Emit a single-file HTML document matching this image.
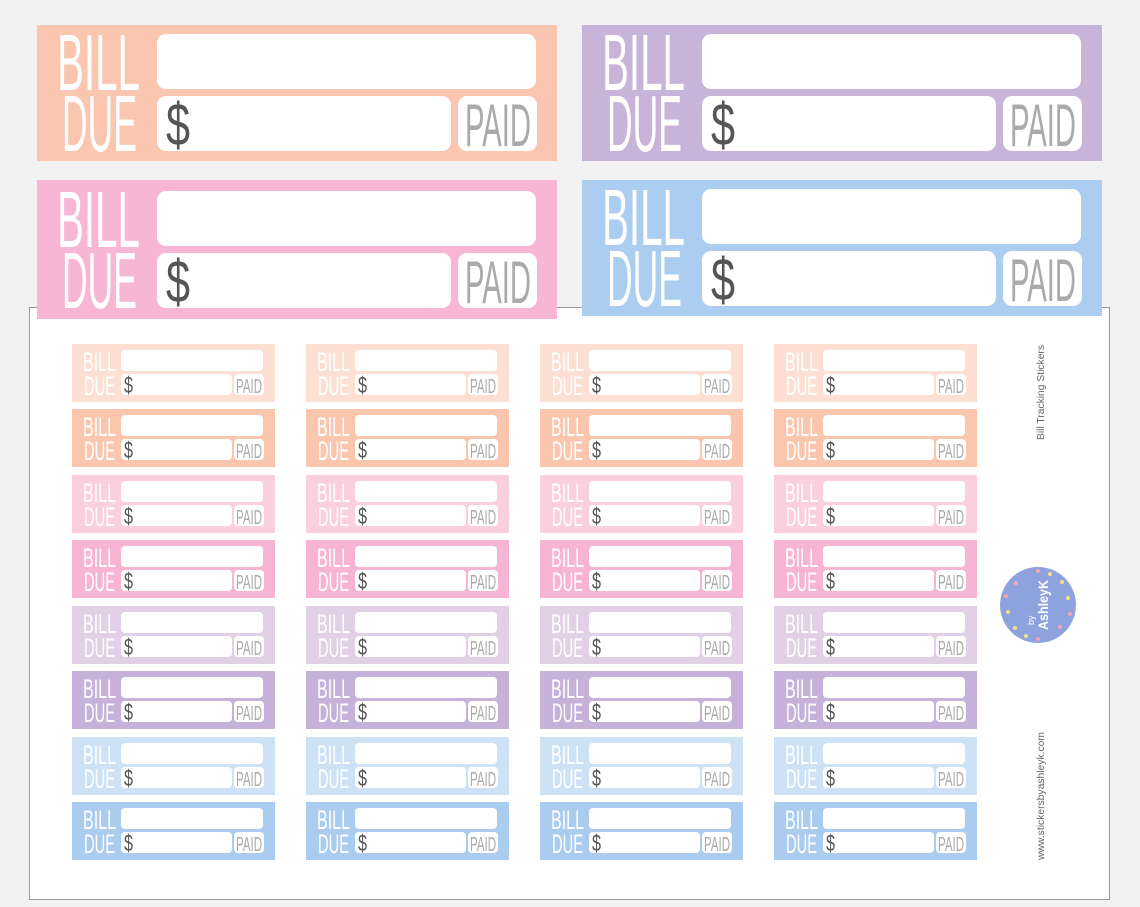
<!DOCTYPE html>
<html><head><meta charset="utf-8"><style>
html,body{margin:0;padding:0;background:#f3f3f4;}
svg{display:block}
.w{fill:#fff;font-family:"Liberation Sans",sans-serif;}
.s{font-size:27px}
.d{fill:#555;font-family:"Liberation Sans",sans-serif;font-size:23px}
.p{fill:#aaa;font-family:"Liberation Sans",sans-serif;font-size:20px}
</style></head><body>
<svg width="1140" height="907" viewBox="0 0 1140 907" xmlns="http://www.w3.org/2000/svg">
<rect width="1140" height="907" fill="#f2f2f3"/>
<rect x="29.5" y="307.5" width="1080" height="592" fill="#fff" stroke="#9a9a9a"/>
<g>
<rect x="37" y="25" width="520" height="136" fill="#fbc6b0"/>
<rect x="157" y="34" width="379" height="55" rx="9" fill="#fff"/>
<rect x="157" y="96" width="294" height="55" rx="9" fill="#fff"/>
<rect x="458" y="96" width="79" height="55" rx="9" fill="#fff"/>
<text class="w" x="57" y="90" font-size="80" textLength="83" lengthAdjust="spacingAndGlyphs">BILL</text>
<text class="w" x="62" y="151" font-size="80" textLength="75" lengthAdjust="spacingAndGlyphs">DUE</text>
<text class="d" style="font-size:60px" x="166" y="145" textLength="24" lengthAdjust="spacingAndGlyphs">$</text>
<text class="p" style="font-size:60px" x="465" y="146" textLength="66" lengthAdjust="spacingAndGlyphs">PAID</text>
</g>
<g>
<rect x="582" y="25" width="520" height="136" fill="#c8b4d8"/>
<rect x="702" y="34" width="379" height="55" rx="9" fill="#fff"/>
<rect x="702" y="96" width="294" height="55" rx="9" fill="#fff"/>
<rect x="1003" y="96" width="79" height="55" rx="9" fill="#fff"/>
<text class="w" x="602" y="90" font-size="80" textLength="83" lengthAdjust="spacingAndGlyphs">BILL</text>
<text class="w" x="607" y="151" font-size="80" textLength="75" lengthAdjust="spacingAndGlyphs">DUE</text>
<text class="d" style="font-size:60px" x="711" y="145" textLength="24" lengthAdjust="spacingAndGlyphs">$</text>
<text class="p" style="font-size:60px" x="1010" y="146" textLength="66" lengthAdjust="spacingAndGlyphs">PAID</text>
</g>
<g>
<rect x="37" y="180" width="520" height="139" fill="#f7b6d4"/>
<rect x="157" y="191" width="379" height="55" rx="9" fill="#fff"/>
<rect x="157" y="253" width="294" height="55" rx="9" fill="#fff"/>
<rect x="458" y="253" width="79" height="55" rx="9" fill="#fff"/>
<text class="w" x="57" y="247" font-size="80" textLength="83" lengthAdjust="spacingAndGlyphs">BILL</text>
<text class="w" x="62" y="308" font-size="80" textLength="75" lengthAdjust="spacingAndGlyphs">DUE</text>
<text class="d" style="font-size:60px" x="166" y="302" textLength="24" lengthAdjust="spacingAndGlyphs">$</text>
<text class="p" style="font-size:60px" x="465" y="303" textLength="66" lengthAdjust="spacingAndGlyphs">PAID</text>
</g>
<g>
<rect x="582" y="180" width="520" height="136" fill="#abcdef"/>
<rect x="702" y="189" width="379" height="55" rx="9" fill="#fff"/>
<rect x="702" y="251" width="294" height="55" rx="9" fill="#fff"/>
<rect x="1003" y="251" width="79" height="55" rx="9" fill="#fff"/>
<text class="w" x="602" y="245" font-size="80" textLength="83" lengthAdjust="spacingAndGlyphs">BILL</text>
<text class="w" x="607" y="306" font-size="80" textLength="75" lengthAdjust="spacingAndGlyphs">DUE</text>
<text class="d" style="font-size:60px" x="711" y="300" textLength="24" lengthAdjust="spacingAndGlyphs">$</text>
<text class="p" style="font-size:60px" x="1010" y="301" textLength="66" lengthAdjust="spacingAndGlyphs">PAID</text>
</g>

<g>
<g transform="translate(72,344)"><rect width="203" height="58" fill="#fde0d3"/><rect x="49" y="6" width="142" height="21" rx="4" fill="#fff"/><rect x="49" y="30" width="111" height="21" rx="4" fill="#fff"/><rect x="162" y="30" width="30" height="21" rx="4" fill="#fff"/><text class="w s" x="11" y="27" textLength="33" lengthAdjust="spacingAndGlyphs">BILL</text><text class="w s" x="12" y="51" textLength="31" lengthAdjust="spacingAndGlyphs">DUE</text><text class="d" x="52" y="49" textLength="9" lengthAdjust="spacingAndGlyphs">$</text><text class="p" x="164" y="49" textLength="26" lengthAdjust="spacingAndGlyphs">PAID</text></g>
<g transform="translate(306,344)"><rect width="203" height="58" fill="#fde0d3"/><rect x="49" y="6" width="142" height="21" rx="4" fill="#fff"/><rect x="49" y="30" width="111" height="21" rx="4" fill="#fff"/><rect x="162" y="30" width="30" height="21" rx="4" fill="#fff"/><text class="w s" x="11" y="27" textLength="33" lengthAdjust="spacingAndGlyphs">BILL</text><text class="w s" x="12" y="51" textLength="31" lengthAdjust="spacingAndGlyphs">DUE</text><text class="d" x="52" y="49" textLength="9" lengthAdjust="spacingAndGlyphs">$</text><text class="p" x="164" y="49" textLength="26" lengthAdjust="spacingAndGlyphs">PAID</text></g>
<g transform="translate(540,344)"><rect width="203" height="58" fill="#fde0d3"/><rect x="49" y="6" width="142" height="21" rx="4" fill="#fff"/><rect x="49" y="30" width="111" height="21" rx="4" fill="#fff"/><rect x="162" y="30" width="30" height="21" rx="4" fill="#fff"/><text class="w s" x="11" y="27" textLength="33" lengthAdjust="spacingAndGlyphs">BILL</text><text class="w s" x="12" y="51" textLength="31" lengthAdjust="spacingAndGlyphs">DUE</text><text class="d" x="52" y="49" textLength="9" lengthAdjust="spacingAndGlyphs">$</text><text class="p" x="164" y="49" textLength="26" lengthAdjust="spacingAndGlyphs">PAID</text></g>
<g transform="translate(774,344)"><rect width="203" height="58" fill="#fde0d3"/><rect x="49" y="6" width="142" height="21" rx="4" fill="#fff"/><rect x="49" y="30" width="111" height="21" rx="4" fill="#fff"/><rect x="162" y="30" width="30" height="21" rx="4" fill="#fff"/><text class="w s" x="11" y="27" textLength="33" lengthAdjust="spacingAndGlyphs">BILL</text><text class="w s" x="12" y="51" textLength="31" lengthAdjust="spacingAndGlyphs">DUE</text><text class="d" x="52" y="49" textLength="9" lengthAdjust="spacingAndGlyphs">$</text><text class="p" x="164" y="49" textLength="26" lengthAdjust="spacingAndGlyphs">PAID</text></g>

<g transform="translate(72,409)"><rect width="203" height="58" fill="#fbc6ae"/><rect x="49" y="6" width="142" height="21" rx="4" fill="#fff"/><rect x="49" y="30" width="111" height="21" rx="4" fill="#fff"/><rect x="162" y="30" width="30" height="21" rx="4" fill="#fff"/><text class="w s" x="11" y="27" textLength="33" lengthAdjust="spacingAndGlyphs">BILL</text><text class="w s" x="12" y="51" textLength="31" lengthAdjust="spacingAndGlyphs">DUE</text><text class="d" x="52" y="49" textLength="9" lengthAdjust="spacingAndGlyphs">$</text><text class="p" x="164" y="49" textLength="26" lengthAdjust="spacingAndGlyphs">PAID</text></g>
<g transform="translate(306,409)"><rect width="203" height="58" fill="#fbc6ae"/><rect x="49" y="6" width="142" height="21" rx="4" fill="#fff"/><rect x="49" y="30" width="111" height="21" rx="4" fill="#fff"/><rect x="162" y="30" width="30" height="21" rx="4" fill="#fff"/><text class="w s" x="11" y="27" textLength="33" lengthAdjust="spacingAndGlyphs">BILL</text><text class="w s" x="12" y="51" textLength="31" lengthAdjust="spacingAndGlyphs">DUE</text><text class="d" x="52" y="49" textLength="9" lengthAdjust="spacingAndGlyphs">$</text><text class="p" x="164" y="49" textLength="26" lengthAdjust="spacingAndGlyphs">PAID</text></g>
<g transform="translate(540,409)"><rect width="203" height="58" fill="#fbc6ae"/><rect x="49" y="6" width="142" height="21" rx="4" fill="#fff"/><rect x="49" y="30" width="111" height="21" rx="4" fill="#fff"/><rect x="162" y="30" width="30" height="21" rx="4" fill="#fff"/><text class="w s" x="11" y="27" textLength="33" lengthAdjust="spacingAndGlyphs">BILL</text><text class="w s" x="12" y="51" textLength="31" lengthAdjust="spacingAndGlyphs">DUE</text><text class="d" x="52" y="49" textLength="9" lengthAdjust="spacingAndGlyphs">$</text><text class="p" x="164" y="49" textLength="26" lengthAdjust="spacingAndGlyphs">PAID</text></g>
<g transform="translate(774,409)"><rect width="203" height="58" fill="#fbc6ae"/><rect x="49" y="6" width="142" height="21" rx="4" fill="#fff"/><rect x="49" y="30" width="111" height="21" rx="4" fill="#fff"/><rect x="162" y="30" width="30" height="21" rx="4" fill="#fff"/><text class="w s" x="11" y="27" textLength="33" lengthAdjust="spacingAndGlyphs">BILL</text><text class="w s" x="12" y="51" textLength="31" lengthAdjust="spacingAndGlyphs">DUE</text><text class="d" x="52" y="49" textLength="9" lengthAdjust="spacingAndGlyphs">$</text><text class="p" x="164" y="49" textLength="26" lengthAdjust="spacingAndGlyphs">PAID</text></g>

<g transform="translate(72,475)"><rect width="203" height="58" fill="#fad0de"/><rect x="49" y="6" width="142" height="21" rx="4" fill="#fff"/><rect x="49" y="30" width="111" height="21" rx="4" fill="#fff"/><rect x="162" y="30" width="30" height="21" rx="4" fill="#fff"/><text class="w s" x="11" y="27" textLength="33" lengthAdjust="spacingAndGlyphs">BILL</text><text class="w s" x="12" y="51" textLength="31" lengthAdjust="spacingAndGlyphs">DUE</text><text class="d" x="52" y="49" textLength="9" lengthAdjust="spacingAndGlyphs">$</text><text class="p" x="164" y="49" textLength="26" lengthAdjust="spacingAndGlyphs">PAID</text></g>
<g transform="translate(306,475)"><rect width="203" height="58" fill="#fad0de"/><rect x="49" y="6" width="142" height="21" rx="4" fill="#fff"/><rect x="49" y="30" width="111" height="21" rx="4" fill="#fff"/><rect x="162" y="30" width="30" height="21" rx="4" fill="#fff"/><text class="w s" x="11" y="27" textLength="33" lengthAdjust="spacingAndGlyphs">BILL</text><text class="w s" x="12" y="51" textLength="31" lengthAdjust="spacingAndGlyphs">DUE</text><text class="d" x="52" y="49" textLength="9" lengthAdjust="spacingAndGlyphs">$</text><text class="p" x="164" y="49" textLength="26" lengthAdjust="spacingAndGlyphs">PAID</text></g>
<g transform="translate(540,475)"><rect width="203" height="58" fill="#fad0de"/><rect x="49" y="6" width="142" height="21" rx="4" fill="#fff"/><rect x="49" y="30" width="111" height="21" rx="4" fill="#fff"/><rect x="162" y="30" width="30" height="21" rx="4" fill="#fff"/><text class="w s" x="11" y="27" textLength="33" lengthAdjust="spacingAndGlyphs">BILL</text><text class="w s" x="12" y="51" textLength="31" lengthAdjust="spacingAndGlyphs">DUE</text><text class="d" x="52" y="49" textLength="9" lengthAdjust="spacingAndGlyphs">$</text><text class="p" x="164" y="49" textLength="26" lengthAdjust="spacingAndGlyphs">PAID</text></g>
<g transform="translate(774,475)"><rect width="203" height="58" fill="#fad0de"/><rect x="49" y="6" width="142" height="21" rx="4" fill="#fff"/><rect x="49" y="30" width="111" height="21" rx="4" fill="#fff"/><rect x="162" y="30" width="30" height="21" rx="4" fill="#fff"/><text class="w s" x="11" y="27" textLength="33" lengthAdjust="spacingAndGlyphs">BILL</text><text class="w s" x="12" y="51" textLength="31" lengthAdjust="spacingAndGlyphs">DUE</text><text class="d" x="52" y="49" textLength="9" lengthAdjust="spacingAndGlyphs">$</text><text class="p" x="164" y="49" textLength="26" lengthAdjust="spacingAndGlyphs">PAID</text></g>

<g transform="translate(72,540)"><rect width="203" height="58" fill="#f7b5d3"/><rect x="49" y="6" width="142" height="21" rx="4" fill="#fff"/><rect x="49" y="30" width="111" height="21" rx="4" fill="#fff"/><rect x="162" y="30" width="30" height="21" rx="4" fill="#fff"/><text class="w s" x="11" y="27" textLength="33" lengthAdjust="spacingAndGlyphs">BILL</text><text class="w s" x="12" y="51" textLength="31" lengthAdjust="spacingAndGlyphs">DUE</text><text class="d" x="52" y="49" textLength="9" lengthAdjust="spacingAndGlyphs">$</text><text class="p" x="164" y="49" textLength="26" lengthAdjust="spacingAndGlyphs">PAID</text></g>
<g transform="translate(306,540)"><rect width="203" height="58" fill="#f7b5d3"/><rect x="49" y="6" width="142" height="21" rx="4" fill="#fff"/><rect x="49" y="30" width="111" height="21" rx="4" fill="#fff"/><rect x="162" y="30" width="30" height="21" rx="4" fill="#fff"/><text class="w s" x="11" y="27" textLength="33" lengthAdjust="spacingAndGlyphs">BILL</text><text class="w s" x="12" y="51" textLength="31" lengthAdjust="spacingAndGlyphs">DUE</text><text class="d" x="52" y="49" textLength="9" lengthAdjust="spacingAndGlyphs">$</text><text class="p" x="164" y="49" textLength="26" lengthAdjust="spacingAndGlyphs">PAID</text></g>
<g transform="translate(540,540)"><rect width="203" height="58" fill="#f7b5d3"/><rect x="49" y="6" width="142" height="21" rx="4" fill="#fff"/><rect x="49" y="30" width="111" height="21" rx="4" fill="#fff"/><rect x="162" y="30" width="30" height="21" rx="4" fill="#fff"/><text class="w s" x="11" y="27" textLength="33" lengthAdjust="spacingAndGlyphs">BILL</text><text class="w s" x="12" y="51" textLength="31" lengthAdjust="spacingAndGlyphs">DUE</text><text class="d" x="52" y="49" textLength="9" lengthAdjust="spacingAndGlyphs">$</text><text class="p" x="164" y="49" textLength="26" lengthAdjust="spacingAndGlyphs">PAID</text></g>
<g transform="translate(774,540)"><rect width="203" height="58" fill="#f7b5d3"/><rect x="49" y="6" width="142" height="21" rx="4" fill="#fff"/><rect x="49" y="30" width="111" height="21" rx="4" fill="#fff"/><rect x="162" y="30" width="30" height="21" rx="4" fill="#fff"/><text class="w s" x="11" y="27" textLength="33" lengthAdjust="spacingAndGlyphs">BILL</text><text class="w s" x="12" y="51" textLength="31" lengthAdjust="spacingAndGlyphs">DUE</text><text class="d" x="52" y="49" textLength="9" lengthAdjust="spacingAndGlyphs">$</text><text class="p" x="164" y="49" textLength="26" lengthAdjust="spacingAndGlyphs">PAID</text></g>

<g transform="translate(72,606)"><rect width="203" height="58" fill="#e2d0e6"/><rect x="49" y="6" width="142" height="21" rx="4" fill="#fff"/><rect x="49" y="30" width="111" height="21" rx="4" fill="#fff"/><rect x="162" y="30" width="30" height="21" rx="4" fill="#fff"/><text class="w s" x="11" y="27" textLength="33" lengthAdjust="spacingAndGlyphs">BILL</text><text class="w s" x="12" y="51" textLength="31" lengthAdjust="spacingAndGlyphs">DUE</text><text class="d" x="52" y="49" textLength="9" lengthAdjust="spacingAndGlyphs">$</text><text class="p" x="164" y="49" textLength="26" lengthAdjust="spacingAndGlyphs">PAID</text></g>
<g transform="translate(306,606)"><rect width="203" height="58" fill="#e2d0e6"/><rect x="49" y="6" width="142" height="21" rx="4" fill="#fff"/><rect x="49" y="30" width="111" height="21" rx="4" fill="#fff"/><rect x="162" y="30" width="30" height="21" rx="4" fill="#fff"/><text class="w s" x="11" y="27" textLength="33" lengthAdjust="spacingAndGlyphs">BILL</text><text class="w s" x="12" y="51" textLength="31" lengthAdjust="spacingAndGlyphs">DUE</text><text class="d" x="52" y="49" textLength="9" lengthAdjust="spacingAndGlyphs">$</text><text class="p" x="164" y="49" textLength="26" lengthAdjust="spacingAndGlyphs">PAID</text></g>
<g transform="translate(540,606)"><rect width="203" height="58" fill="#e2d0e6"/><rect x="49" y="6" width="142" height="21" rx="4" fill="#fff"/><rect x="49" y="30" width="111" height="21" rx="4" fill="#fff"/><rect x="162" y="30" width="30" height="21" rx="4" fill="#fff"/><text class="w s" x="11" y="27" textLength="33" lengthAdjust="spacingAndGlyphs">BILL</text><text class="w s" x="12" y="51" textLength="31" lengthAdjust="spacingAndGlyphs">DUE</text><text class="d" x="52" y="49" textLength="9" lengthAdjust="spacingAndGlyphs">$</text><text class="p" x="164" y="49" textLength="26" lengthAdjust="spacingAndGlyphs">PAID</text></g>
<g transform="translate(774,606)"><rect width="203" height="58" fill="#e2d0e6"/><rect x="49" y="6" width="142" height="21" rx="4" fill="#fff"/><rect x="49" y="30" width="111" height="21" rx="4" fill="#fff"/><rect x="162" y="30" width="30" height="21" rx="4" fill="#fff"/><text class="w s" x="11" y="27" textLength="33" lengthAdjust="spacingAndGlyphs">BILL</text><text class="w s" x="12" y="51" textLength="31" lengthAdjust="spacingAndGlyphs">DUE</text><text class="d" x="52" y="49" textLength="9" lengthAdjust="spacingAndGlyphs">$</text><text class="p" x="164" y="49" textLength="26" lengthAdjust="spacingAndGlyphs">PAID</text></g>

<g transform="translate(72,671)"><rect width="203" height="58" fill="#c6b2d8"/><rect x="49" y="6" width="142" height="21" rx="4" fill="#fff"/><rect x="49" y="30" width="111" height="21" rx="4" fill="#fff"/><rect x="162" y="30" width="30" height="21" rx="4" fill="#fff"/><text class="w s" x="11" y="27" textLength="33" lengthAdjust="spacingAndGlyphs">BILL</text><text class="w s" x="12" y="51" textLength="31" lengthAdjust="spacingAndGlyphs">DUE</text><text class="d" x="52" y="49" textLength="9" lengthAdjust="spacingAndGlyphs">$</text><text class="p" x="164" y="49" textLength="26" lengthAdjust="spacingAndGlyphs">PAID</text></g>
<g transform="translate(306,671)"><rect width="203" height="58" fill="#c6b2d8"/><rect x="49" y="6" width="142" height="21" rx="4" fill="#fff"/><rect x="49" y="30" width="111" height="21" rx="4" fill="#fff"/><rect x="162" y="30" width="30" height="21" rx="4" fill="#fff"/><text class="w s" x="11" y="27" textLength="33" lengthAdjust="spacingAndGlyphs">BILL</text><text class="w s" x="12" y="51" textLength="31" lengthAdjust="spacingAndGlyphs">DUE</text><text class="d" x="52" y="49" textLength="9" lengthAdjust="spacingAndGlyphs">$</text><text class="p" x="164" y="49" textLength="26" lengthAdjust="spacingAndGlyphs">PAID</text></g>
<g transform="translate(540,671)"><rect width="203" height="58" fill="#c6b2d8"/><rect x="49" y="6" width="142" height="21" rx="4" fill="#fff"/><rect x="49" y="30" width="111" height="21" rx="4" fill="#fff"/><rect x="162" y="30" width="30" height="21" rx="4" fill="#fff"/><text class="w s" x="11" y="27" textLength="33" lengthAdjust="spacingAndGlyphs">BILL</text><text class="w s" x="12" y="51" textLength="31" lengthAdjust="spacingAndGlyphs">DUE</text><text class="d" x="52" y="49" textLength="9" lengthAdjust="spacingAndGlyphs">$</text><text class="p" x="164" y="49" textLength="26" lengthAdjust="spacingAndGlyphs">PAID</text></g>
<g transform="translate(774,671)"><rect width="203" height="58" fill="#c6b2d8"/><rect x="49" y="6" width="142" height="21" rx="4" fill="#fff"/><rect x="49" y="30" width="111" height="21" rx="4" fill="#fff"/><rect x="162" y="30" width="30" height="21" rx="4" fill="#fff"/><text class="w s" x="11" y="27" textLength="33" lengthAdjust="spacingAndGlyphs">BILL</text><text class="w s" x="12" y="51" textLength="31" lengthAdjust="spacingAndGlyphs">DUE</text><text class="d" x="52" y="49" textLength="9" lengthAdjust="spacingAndGlyphs">$</text><text class="p" x="164" y="49" textLength="26" lengthAdjust="spacingAndGlyphs">PAID</text></g>

<g transform="translate(72,737)"><rect width="203" height="58" fill="#cde3f5"/><rect x="49" y="6" width="142" height="21" rx="4" fill="#fff"/><rect x="49" y="30" width="111" height="21" rx="4" fill="#fff"/><rect x="162" y="30" width="30" height="21" rx="4" fill="#fff"/><text class="w s" x="11" y="27" textLength="33" lengthAdjust="spacingAndGlyphs">BILL</text><text class="w s" x="12" y="51" textLength="31" lengthAdjust="spacingAndGlyphs">DUE</text><text class="d" x="52" y="49" textLength="9" lengthAdjust="spacingAndGlyphs">$</text><text class="p" x="164" y="49" textLength="26" lengthAdjust="spacingAndGlyphs">PAID</text></g>
<g transform="translate(306,737)"><rect width="203" height="58" fill="#cde3f5"/><rect x="49" y="6" width="142" height="21" rx="4" fill="#fff"/><rect x="49" y="30" width="111" height="21" rx="4" fill="#fff"/><rect x="162" y="30" width="30" height="21" rx="4" fill="#fff"/><text class="w s" x="11" y="27" textLength="33" lengthAdjust="spacingAndGlyphs">BILL</text><text class="w s" x="12" y="51" textLength="31" lengthAdjust="spacingAndGlyphs">DUE</text><text class="d" x="52" y="49" textLength="9" lengthAdjust="spacingAndGlyphs">$</text><text class="p" x="164" y="49" textLength="26" lengthAdjust="spacingAndGlyphs">PAID</text></g>
<g transform="translate(540,737)"><rect width="203" height="58" fill="#cde3f5"/><rect x="49" y="6" width="142" height="21" rx="4" fill="#fff"/><rect x="49" y="30" width="111" height="21" rx="4" fill="#fff"/><rect x="162" y="30" width="30" height="21" rx="4" fill="#fff"/><text class="w s" x="11" y="27" textLength="33" lengthAdjust="spacingAndGlyphs">BILL</text><text class="w s" x="12" y="51" textLength="31" lengthAdjust="spacingAndGlyphs">DUE</text><text class="d" x="52" y="49" textLength="9" lengthAdjust="spacingAndGlyphs">$</text><text class="p" x="164" y="49" textLength="26" lengthAdjust="spacingAndGlyphs">PAID</text></g>
<g transform="translate(774,737)"><rect width="203" height="58" fill="#cde3f5"/><rect x="49" y="6" width="142" height="21" rx="4" fill="#fff"/><rect x="49" y="30" width="111" height="21" rx="4" fill="#fff"/><rect x="162" y="30" width="30" height="21" rx="4" fill="#fff"/><text class="w s" x="11" y="27" textLength="33" lengthAdjust="spacingAndGlyphs">BILL</text><text class="w s" x="12" y="51" textLength="31" lengthAdjust="spacingAndGlyphs">DUE</text><text class="d" x="52" y="49" textLength="9" lengthAdjust="spacingAndGlyphs">$</text><text class="p" x="164" y="49" textLength="26" lengthAdjust="spacingAndGlyphs">PAID</text></g>

<g transform="translate(72,802)"><rect width="203" height="58" fill="#aaccee"/><rect x="49" y="6" width="142" height="21" rx="4" fill="#fff"/><rect x="49" y="30" width="111" height="21" rx="4" fill="#fff"/><rect x="162" y="30" width="30" height="21" rx="4" fill="#fff"/><text class="w s" x="11" y="27" textLength="33" lengthAdjust="spacingAndGlyphs">BILL</text><text class="w s" x="12" y="51" textLength="31" lengthAdjust="spacingAndGlyphs">DUE</text><text class="d" x="52" y="49" textLength="9" lengthAdjust="spacingAndGlyphs">$</text><text class="p" x="164" y="49" textLength="26" lengthAdjust="spacingAndGlyphs">PAID</text></g>
<g transform="translate(306,802)"><rect width="203" height="58" fill="#aaccee"/><rect x="49" y="6" width="142" height="21" rx="4" fill="#fff"/><rect x="49" y="30" width="111" height="21" rx="4" fill="#fff"/><rect x="162" y="30" width="30" height="21" rx="4" fill="#fff"/><text class="w s" x="11" y="27" textLength="33" lengthAdjust="spacingAndGlyphs">BILL</text><text class="w s" x="12" y="51" textLength="31" lengthAdjust="spacingAndGlyphs">DUE</text><text class="d" x="52" y="49" textLength="9" lengthAdjust="spacingAndGlyphs">$</text><text class="p" x="164" y="49" textLength="26" lengthAdjust="spacingAndGlyphs">PAID</text></g>
<g transform="translate(540,802)"><rect width="203" height="58" fill="#aaccee"/><rect x="49" y="6" width="142" height="21" rx="4" fill="#fff"/><rect x="49" y="30" width="111" height="21" rx="4" fill="#fff"/><rect x="162" y="30" width="30" height="21" rx="4" fill="#fff"/><text class="w s" x="11" y="27" textLength="33" lengthAdjust="spacingAndGlyphs">BILL</text><text class="w s" x="12" y="51" textLength="31" lengthAdjust="spacingAndGlyphs">DUE</text><text class="d" x="52" y="49" textLength="9" lengthAdjust="spacingAndGlyphs">$</text><text class="p" x="164" y="49" textLength="26" lengthAdjust="spacingAndGlyphs">PAID</text></g>
<g transform="translate(774,802)"><rect width="203" height="58" fill="#aaccee"/><rect x="49" y="6" width="142" height="21" rx="4" fill="#fff"/><rect x="49" y="30" width="111" height="21" rx="4" fill="#fff"/><rect x="162" y="30" width="30" height="21" rx="4" fill="#fff"/><text class="w s" x="11" y="27" textLength="33" lengthAdjust="spacingAndGlyphs">BILL</text><text class="w s" x="12" y="51" textLength="31" lengthAdjust="spacingAndGlyphs">DUE</text><text class="d" x="52" y="49" textLength="9" lengthAdjust="spacingAndGlyphs">$</text><text class="p" x="164" y="49" textLength="26" lengthAdjust="spacingAndGlyphs">PAID</text></g>
</g>

<text transform="translate(1044,440) rotate(-90)" font-family="Liberation Sans, sans-serif" font-size="10" fill="#666" textLength="95" lengthAdjust="spacingAndGlyphs">Bill  Tracking Stickers</text>
<text transform="translate(1044,860) rotate(-90)" font-family="Liberation Sans, sans-serif" font-size="10" fill="#666" textLength="128" lengthAdjust="spacingAndGlyphs">www.stickersbyashleyk.com</text>
<circle cx="1038" cy="605" r="38" fill="#8ea2dd"/>
<g fill="#f4a8b8"><circle cx="1038" cy="571" r="2"/><circle cx="1038" cy="639" r="2"/><circle cx="1006" cy="596" r="2"/><circle cx="1070" cy="614" r="2"/><circle cx="1016" cy="583" r="2"/><circle cx="1060" cy="627" r="2"/></g>
<g fill="#f4e08a"><circle cx="1050" cy="574" r="2"/><circle cx="1026" cy="636" r="2"/><circle cx="1008" cy="612" r="2"/><circle cx="1068" cy="598" r="2"/><circle cx="1062" cy="582" r="2"/><circle cx="1015" cy="628" r="2"/></g>
<text transform="translate(1034,625) rotate(-90)" font-family="Liberation Sans, sans-serif" font-size="9" fill="#fff">by</text>
<text transform="translate(1048,630) rotate(-90)" font-family="Liberation Sans, sans-serif" font-size="14" font-weight="bold" fill="#fff" textLength="50" lengthAdjust="spacingAndGlyphs">AshleyK</text>
</svg>
</body></html>
